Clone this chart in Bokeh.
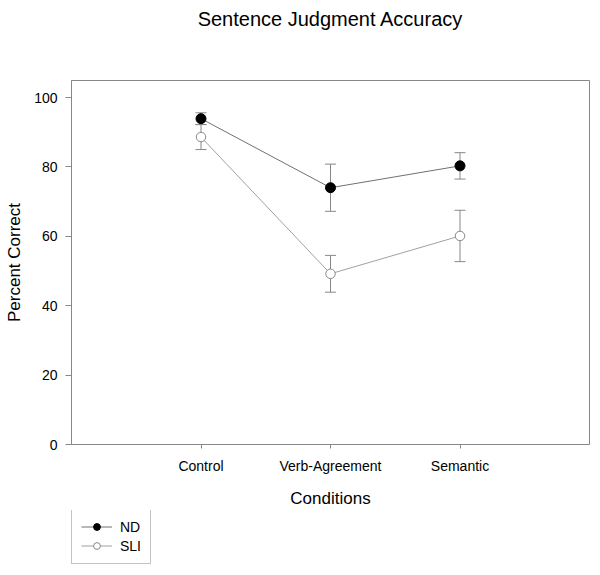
from bokeh.plotting import figure
from bokeh.layouts import column
from bokeh.models import (ColumnDataSource, FactorRange, Range1d, Whisker, TeeHead,
                          Legend, LegendItem, FixedTicker, Label)
from bokeh.embed import file_html
from bokeh.resources import INLINE

# ---- data ----
conditions = ["Control", "Verb-Agreement", "Semantic"]
nd_mean = [93.9, 74.0, 80.3]
nd_se = [1.7, 6.8, 3.8]
sli_mean = [88.6, 49.2, 60.1]
sli_se = [3.6, 5.3, 7.4]
y_ticks = [0, 20, 40, 60, 80, 100]
series_names = ["ND", "SLI"]
chart_title = "Sentence Judgment Accuracy"

FONT = "Liberation Sans"
GREY = "#888888"
ND_STYLE = dict(line_color="#707070", size=10, fill_color="black", marker_line="black")
SLI_STYLE = dict(line_color="#a0a0a0", size=9.5, fill_color="white", marker_line="#888888")

nd_src = ColumnDataSource(dict(
    x=conditions, y=nd_mean,
    upper=[m + s for m, s in zip(nd_mean, nd_se)],
    lower=[m - s for m, s in zip(nd_mean, nd_se)]))
sli_src = ColumnDataSource(dict(
    x=conditions, y=sli_mean,
    upper=[m + s for m, s in zip(sli_mean, sli_se)],
    lower=[m - s for m, s in zip(sli_mean, sli_se)]))

xr = FactorRange(factors=conditions, range_padding=0.5, range_padding_units="absolute")

def strip(height):
    f = figure(width=600, height=height, x_range=xr, y_range=Range1d(0, 1),
               output_backend="svg", toolbar_location=None,
               min_border_left=71, min_border_right=11, min_border_top=0, min_border_bottom=0)
    f.axis.visible = False
    f.grid.visible = False
    f.outline_line_color = None
    return f

# ---- title strip ----
top = strip(40)
top.add_layout(Label(x=259, y=22, x_units="screen", y_units="screen", text=chart_title,
                     text_align="center", text_baseline="middle", text_font=FONT,
                     text_font_size="20px", text_color="black"))

# ---- main chart ----
p = figure(width=600, height=470, x_range=xr, y_range=Range1d(0, 104.9),
           output_backend="svg", toolbar_location=None,
           min_border_left=71, min_border_right=11,
           min_border_top=40, min_border_bottom=66)

p.xgrid.visible = False
p.ygrid.visible = False
p.outline_line_color = GREY
p.outline_line_width = 1

for ax in (p.xaxis[0], p.yaxis[0]):
    ax.axis_line_color = GREY
    ax.major_tick_line_color = GREY
    ax.minor_tick_line_color = None
    ax.major_tick_in = 0
    ax.major_label_text_font = FONT
    ax.major_label_text_font_size = "14px"
    ax.major_label_text_color = "black"
    ax.axis_label_text_font = FONT
    ax.axis_label_text_font_size = "17px"
    ax.axis_label_text_font_style = "normal"
    ax.axis_label_text_color = "black"

p.xaxis.axis_label = "Conditions"
p.xaxis.major_tick_out = 4
p.xaxis.major_label_standoff = 9
p.xaxis.axis_label_standoff = 12

p.yaxis.axis_label = "Percent Correct"
p.yaxis.ticker = FixedTicker(ticks=y_ticks)
p.yaxis.major_tick_out = 6
p.yaxis.major_label_standoff = 8
p.yaxis.axis_label_standoff = 7

for src in (nd_src, sli_src):
    p.add_layout(Whisker(source=src, base="x", upper="upper", lower="lower",
                         line_color=GREY, line_width=1, level="underlay",
                         upper_head=TeeHead(size=11, line_color=GREY, line_width=1),
                         lower_head=TeeHead(size=11, line_color=GREY, line_width=1)))

for src, st in ((sli_src, SLI_STYLE), (nd_src, ND_STYLE)):
    p.line("x", "y", source=src, line_color=st["line_color"], line_width=1)
for src, st in ((sli_src, SLI_STYLE), (nd_src, ND_STYLE)):
    p.scatter("x", "y", source=src, size=st["size"], marker="circle",
              fill_color=st["fill_color"], line_color=st["marker_line"], line_width=1)

# ---- legend strip ----
lg = strip(65)
items = []
for name, src, st in zip(series_names, (nd_src, sli_src), (ND_STYLE, SLI_STYLE)):
    # same data; outside this strip's y range, so only the legend glyphs show
    r1 = lg.line("x", "y", source=src, line_color=st["line_color"], line_width=1)
    r2 = lg.scatter("x", "y", source=src, size=st["size"], marker="circle",
                    fill_color=st["fill_color"], line_color=st["marker_line"], line_width=1)
    items.append(LegendItem(label=name, renderers=[r1, r2]))

lg.add_layout(Legend(items=items, location=(0, 11), orientation="vertical",
                     border_line_color=GREY, border_line_width=1,
                     background_fill_color="white", background_fill_alpha=1,
                     padding=9, spacing=2, margin=0,
                     glyph_width=31, glyph_height=17, label_standoff=8,
                     label_text_font=FONT, label_text_font_size="14px",
                     label_text_color="black", label_height=17), "center")

layout = column(top, p, lg, spacing=0)
open("out.html", "w").write(file_html(layout, INLINE))
